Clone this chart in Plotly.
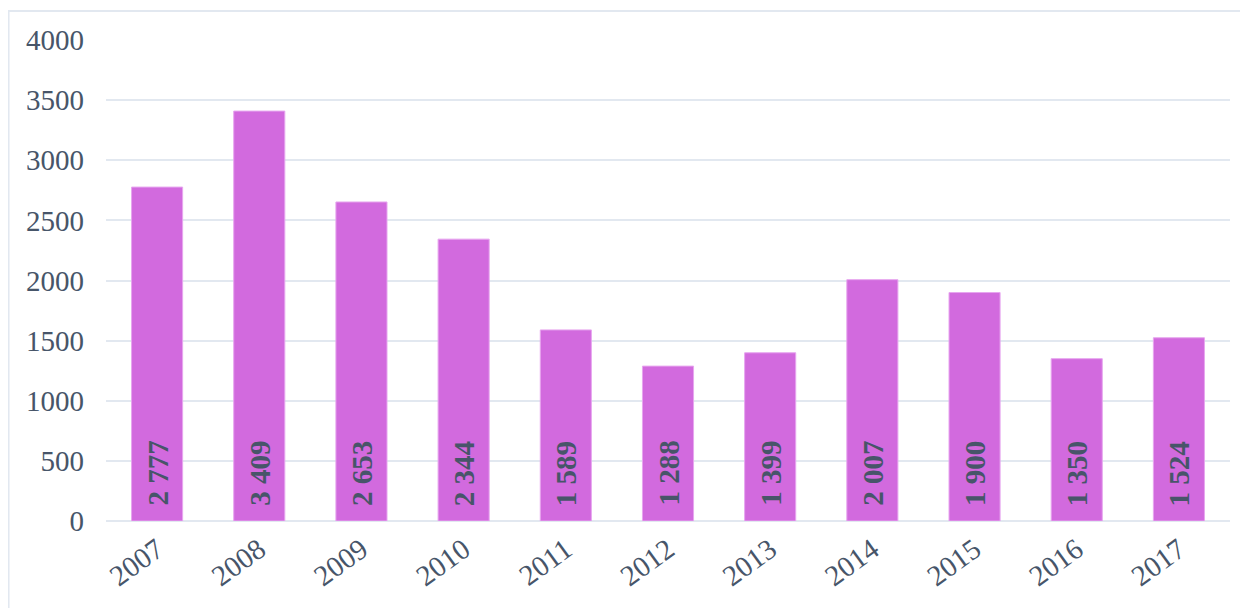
import plotly.graph_objects as go

years = ["2007", "2008", "2009", "2010", "2011", "2012", "2013", "2014", "2015", "2016", "2017"]
values = [2777, 3409, 2653, 2344, 1589, 1288, 1399, 2007, 1900, 1350, 1524]
y_ticks = [0, 500, 1000, 1500, 2000, 2500, 3000, 3500, 4000]

text_color = "#475569"
font_family = "Liberation Serif, Times New Roman, serif"

fig = go.Figure()
fig.add_trace(go.Bar(
    x=years, y=values,
    marker=dict(color="#D26ADE", line=dict(color="#E7A6EF", width=1)),
    width=0.5,
    hoverinfo="skip",
))

labels = [f"{v:,}".replace(",", " ") for v in values]
for i, lab in enumerate(labels):
    fig.add_annotation(
        x=i, y=0, xref="x", yref="y", text=f"<b>{lab}</b>", textangle=-90,
        showarrow=False, yanchor="bottom", yshift=13,
        font=dict(family=font_family, size=29, color=text_color),
    )

# outer light border (top/left visible)
fig.add_shape(type="rect", xref="paper", yref="paper",
              x0=-0.0867, x1=1.05, y0=-0.25, y1=1.0603,
              line=dict(color="#E2E8F0", width=2), layer="below")

fig.update_layout(
    width=1240, height=600,
    margin=dict(l=98, r=18, t=32, b=87),
    paper_bgcolor="white", plot_bgcolor="white",
    showlegend=False,
    font=dict(family=font_family, color=text_color, size=29),
)
fig.update_xaxes(
    type="category", tickangle=-36, showgrid=False, showline=False,
    ticks="", ticklabelstandoff=5,
    tickfont=dict(size=29, color=text_color, family=font_family),
    range=[-0.5, len(years) - 0.5],
)
fig.update_yaxes(
    range=[0, 4000], tickvals=y_ticks, ticktext=[str(t) for t in y_ticks],
    showgrid=True, gridcolor="#E2E8F0", gridwidth=2,
    zeroline=True, zerolinecolor="#E2E8F0", zerolinewidth=2,
    showline=False, ticks="", ticklen=0, ticklabelstandoff=21,
    tickfont=dict(size=29, color=text_color, family=font_family),
)

fig.write_html("out.html")
